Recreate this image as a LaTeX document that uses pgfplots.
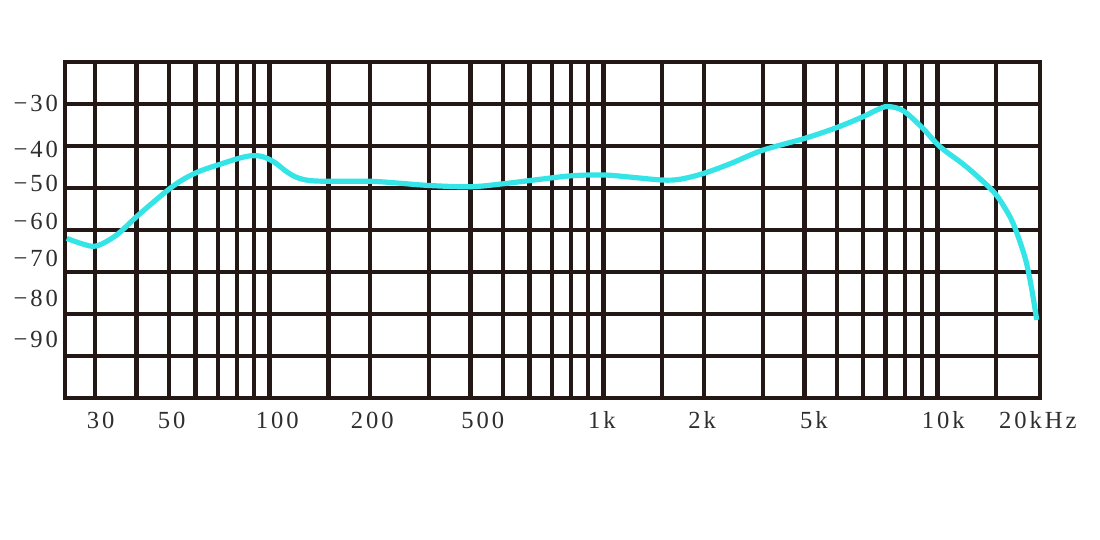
\documentclass[border=0pt]{standalone}
\usepackage{fontspec}
\setmainfont{Liberation Serif}[LetterSpace=12]
\usepackage{pgfplots}
\pgfplotsset{compat=1.18}
\definecolor{gridblack}{RGB}{35,24,21}
\definecolor{curvecyan}{RGB}{52,228,230}
\begin{document}
\begin{tikzpicture}
\useasboundingbox (-32.5pt,-71pt) rectangle (517.5pt,199pt);
\begin{axis}[
  at={(0,0)}, anchor=south west,
  scale only axis, width=487.5pt, height=168pt,
  xmode=log, xmin=24.4, xmax=20300, ymin=-100, ymax=-20,
  axis line style={line width=2.2pt, draw=gridblack},
  tick style={draw=none},
  major tick length=0pt,
  xminorticks=false, yminorticks=false,
  xtick={31.2,50.9,105.5,203,435,990,1975,4266,10420,20000},
  xticklabels={30,50,100,200,500,1k,2k,5k,10k,20kHz},
  ytick={-29.8,-40.7,-49,-57.9,-66.7,-76.4,-86},
  yticklabels={−30,−40,−50,−60,−70,−80,−90},
  extra x ticks={30,40,50,60,70,80,90,100,150,200,300,400,500,600,700,800,900,1000,1500,2000,3000,4000,5000,6000,7000,8000,9000,10000,15000},
  extra y ticks={-30,-40,-50,-60,-70,-80,-90},
  extra tick style={grid=major, xticklabel={}, yticklabel={}},
  major grid style={line width=2.2pt, draw=gridblack},
  ticklabel style={font=\fontsize{12.3}{14}\selectfont, text=black!82},
  x tick label style={text height=8.3pt, text depth=0pt, anchor=north},
  xticklabel shift=3.5pt,
]
\addplot[curvecyan, line width=2.6pt, smooth, tension=0.55] coordinates {
(24.7,-62.0) (27.5,-63.3) (30.3,-63.8) (34.8,-61.2) (40.8,-56.2) (51.5,-49.5)
(60.5,-46.3) (72,-44.2) (82,-42.8) (89,-42.3) (96,-42.6) (104,-44.0)
(112,-46.0) (120,-47.4) (131,-48.2) (150,-48.4) (200,-48.4) (240,-48.8)
(300,-49.4) (400,-49.7) (500,-49.0) (620,-48.1) (800,-47.1) (1000,-46.9)
(1200,-47.4) (1500,-48.1) (1700,-47.9) (2000,-46.5) (2400,-44.2) (3000,-41.0)
(4000,-38.2) (5000,-35.6) (6000,-33.0) (6600,-31.4) (7100,-30.6) (7900,-31.6)
(9000,-35.6) (10200,-40.2) (12200,-44.9) (14700,-50.8) (16000,-55.0)
(16900,-58.6) (17800,-63.5) (18500,-67.9) (19200,-74.3) (19850,-81.4)
};
\end{axis}
\end{tikzpicture}
\end{document}
